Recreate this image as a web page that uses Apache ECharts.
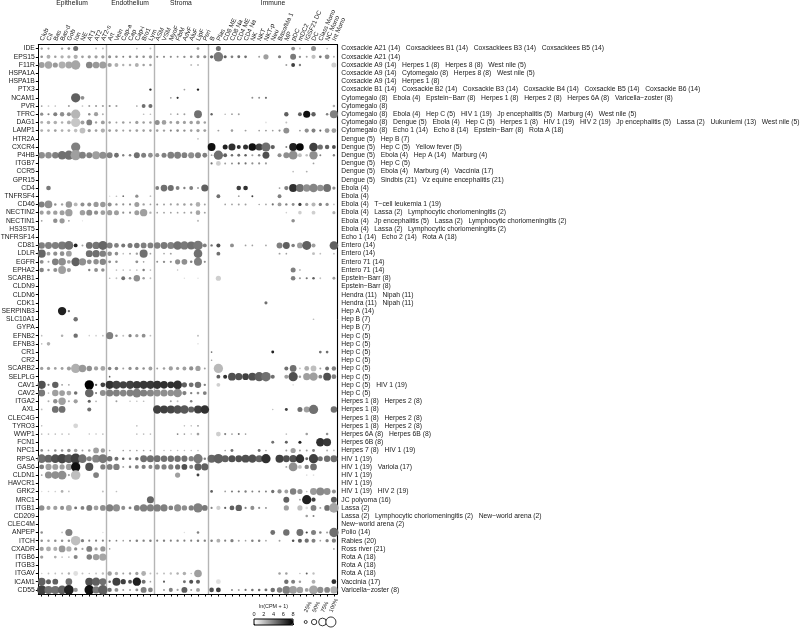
<!DOCTYPE html>
<html><head><meta charset="utf-8">
<script src="https://cdn.jsdelivr.net/npm/echarts@6/dist/echarts.min.js"></script>
<style>html,body{margin:0;padding:0;background:#fff}#c{width:800px;height:628px}</style></head>
<body><div id="c"></div>
<script>
const cellTypes=["Club","Cil","Bas","Bas-d","Gob","Ion","NE","AT1","AT2","AT2-s","Art","Vein","Cap-a","Cap","Cap-i","Bro1","Lym","ASM","VSM","MyoF","FibM","AdvF","AluF","LipF","Peri","B","Plas","CD8 ME","CD8 Na","CD4 ME","CD4 Na","NK","NKT","NKT-p","Neu","Baso/Ma 1","MP","pDC","mDC2","IGSF21 DC","DC","Class Mono","NC Mono","Int Mono"];
const groupNames=["Epithelium","Endothelium","Stroma","Immune"];
const genes=["IDE","EPS15","F11R","HSPA1A","HSPA1B","PTX3","NCAM1","PVR","TFRC","DAG1","LAMP1","HTR2A","CXCR4","P4HB","ITGB7","CCR5","GPR15","CD4","TNFRSF4","CD46","NECTIN2","NECTIN1","HS3ST5","TNFRSF14","CD81","LDLR","EGFR","EPHA2","SCARB1","CLDN9","CLDN6","CDK1","SERPINB3","SLC10A1","GYPA","EFNB2","EFNB3","CR1","CR2","SCARB2","SELPLG","CAV1","CAV2","ITGA2","AXL","CLEC4G","TYRO3","WWP1","FCN1","NPC1","RPSA","GAS6","CLDN1","HAVCR1","GRK2","MRC1","ITGB1","CD209","CLEC4M","ANPEP","ITCH","CXADR","ITGB6","ITGB3","ITGAV","ICAM1","CD55"];
const viruses=["Coxsackie A21 (14)|Coxsackiees B1 (14)|Coxsackiees B3 (14)|Coxsackiees B5 (14)","Coxsackie A21 (14)","Coxsackie A9 (14)|Herpes 1 (8)|Herpes 8 (8)|West nile (5)","Coxsackie A9 (14)|Cytomegalo (8)|Herpes 8 (8)|West nile (5)","Coxsackie A9 (14)|Herpes 1 (8)","Coxsackie B1 (14)|Coxsackie B2 (14)|Coxsackie B3 (14)|Coxsackie B4 (14)|Coxsackie B5 (14)|Coxsackie B6 (14)","Cytomegalo (8)|Ebola (4)|Epstein−Barr (8)|Herpes 1 (8)|Herpes 2 (8)|Herpes 6A (8)|Varicella−zoster (8)","Cytomegalo (8)","Cytomegalo (8)|Ebola (4)|Hep C (5)|HIV 1 (19)|Jp encephalitis (5)|Marburg (4)|West nile (5)","Cytomegalo (8)|Dengue (5)|Ebola (4)|Hep C (5)|Herpes 1 (8)|HIV 1 (19)|HIV 2 (19)|Jp encephalitis (5)|Lassa (2)|Uukuniemi (13)|West nile (5)","Cytomegalo (8)|Echo 1 (14)|Echo 8 (14)|Epstein−Barr (8)|Rota A (18)","Dengue (5)|Hep B (7)","Dengue (5)|Hep C (5)|Yellow fever (5)","Dengue (5)|Ebola (4)|Hep A (14)|Marburg (4)","Dengue (5)|Hep C (5)","Dengue (5)|Ebola (4)|Marburg (4)|Vaccinia (17)","Dengue (5)|Sindbis (21)|Vz equine encephalitis (21)","Ebola (4)","Ebola (4)","Ebola (4)|T−cell leukemia 1 (19)","Ebola (4)|Lassa (2)|Lymphocytic choriomeningitis (2)","Ebola (4)|Jp encephalitis (5)|Lassa (2)|Lymphocytic choriomeningitis (2)","Ebola (4)|Lassa (2)|Lymphocytic choriomeningitis (2)","Echo 1 (14)|Echo 2 (14)|Rota A (18)","Entero (14)","Entero (14)","Entero 71 (14)","Entero 71 (14)","Epstein−Barr (8)","Epstein−Barr (8)","Hendra (11)|Nipah (11)","Hendra (11)|Nipah (11)","Hep A (14)","Hep B (7)","Hep B (7)","Hep C (5)","Hep C (5)","Hep C (5)","Hep C (5)","Hep C (5)","Hep C (5)","Hep C (5)|HIV 1 (19)","Hep C (5)","Herpes 1 (8)|Herpes 2 (8)","Herpes 1 (8)","Herpes 1 (8)|Herpes 2 (8)","Herpes 1 (8)|Herpes 2 (8)","Herpes 6A (8)|Herpes 6B (8)","Herpes 6B (8)","Herpes 7 (8)|HIV 1 (19)","HIV 1 (19)","HIV 1 (19)|Variola (17)","HIV 1 (19)","HIV 1 (19)","HIV 1 (19)|HIV 2 (19)","JC polyoma (16)","Lassa (2)","Lassa (2)|Lymphocytic choriomeningitis (2)|New−world arena (2)","New−world arena (2)","Polio (14)","Rabies (20)","Ross river (21)","Rota A (18)","Rota A (18)","Rota A (18)","Vaccinia (17)","Varicella−zoster (8)"];
const sizeLevels=["25%","50%","75%","100%"];
const sizeLevelValues=[25,50,75,100];
// each gene: flat triples of column index, percent of cells, ln(CPM+1)
const IDE=[0,12,3,1,10,3,3,12,3,4,16,3.5,5,40,4.5,8,8,2,9,8,2,14,6,2,16,8,2,23,16,3,26,40,4.5,37,28,3.5,38,8,2,40,40,3.5,42,6,2];
const EPS15=[0,15,3.5,1,28,2.5,2,14,3,3,22,2.5,4,22,2.5,5,32,2.5,6,16,3,7,22,3,8,22,3,9,22,3,10,20,3.5,11,14,3.5,12,8,4,13,14,3.5,14,14,3.5,15,14,3.5,16,22,3,17,10,3.5,18,10,3.5,19,10,3.5,20,8,3.5,21,12,3.5,22,14,3.5,23,18,3.5,24,20,3.5,25,22,5,26,88,4.2,27,20,5,28,16,4,29,18,4.5,30,16,4.5,32,8,3,33,42,3,35,20,4,37,50,4.2,38,12,3.5,39,8,3,40,32,2,41,16,4.5,42,38,3.5,43,8,2.5];
const F11R=[0,50,3,1,65,2.8,2,42,3.2,3,60,2.5,4,60,2.8,5,85,2.8,7,58,3.8,8,58,3.2,9,62,3,10,32,3,11,28,2.5,12,12,2.5,13,14,2.5,14,28,2.5,15,14,3,16,14,3,22,8,2,23,10,2,36,8,3,37,28,6,38,12,4,43,40,1.5];
const HSPA1A=[];
const HSPA1B=[];
const PTX3=[16,12,6.5,21,6,3,23,12,7];
const NCAM1=[5,85,5,6,28,3.5,19,6,3,20,10,6.5,31,8,3.5,32,8,3.5,33,10,4.5];
const PVR=[0,6,3,1,5,2,2,5,2,4,8,3,6,5,2,7,8,3,8,10,3,9,10,3,10,10,3.5,11,10,3,14,5,3,15,28,4.5,16,30,4.5,43,14,2.5];
const TFRC=[0,22,3.5,1,10,4,2,30,4,3,34,3.5,4,30,3.5,5,85,2.3,7,14,3.5,8,32,3,9,8,2.5,15,5,2,16,5,2,19,6,2,20,6,3,21,8,3,23,70,4.5,25,12,5,27,5,2,28,6,3,29,8,3,36,34,5,38,28,5,39,62,7.5,40,34,5,42,14,4,43,72,4];
const DAG1=[0,18,2.5,1,25,2.5,2,25,2.5,3,14,2.5,4,28,2.5,5,85,1.8,6,30,3,7,48,4,8,12,3,9,28,3,10,14,3,11,8,3,12,14,3,13,8,3,14,22,3,15,14,3,16,14,3,17,40,3.5,18,36,3,19,16,3,20,24,3,21,20,3,22,24,3,23,28,3,24,14,3,33,5,1,36,8,2];
const LAMP1=[0,18,2.5,1,16,2.5,2,16,3,3,16,2.5,4,18,2.5,5,25,2,6,48,2,7,22,3,8,16,3,9,32,2.5,10,18,3,11,14,3,12,10,3,13,12,3,14,16,3,15,14,3,16,14,3,17,14,3,18,12,3,19,10,4,20,16,3.5,21,12,3.5,22,14,3,23,22,3,24,18,3,26,8,3,28,14,3,30,8,3,32,6,3,33,8,3,34,6,3,35,10,3.5,36,50,3.5,38,8,3,39,32,3.5,40,30,4,41,10,5,42,38,3.2,43,38,3];
const HTR2A=[23,6,2];
const CXCR4=[5,85,4,25,70,7.5,27,40,7,28,62,6.5,29,30,6.5,30,40,6.5,31,68,7.5,32,62,6,33,82,4.5,34,32,5,36,8,4,37,70,7,38,68,7.8,40,78,6,41,42,4.5,42,34,5,43,28,5.5];
const P4HB=[0,55,3.5,1,55,3.5,2,55,4,3,78,4.5,4,85,4.5,5,95,3,6,58,4,7,50,4,8,70,3,9,62,3.5,10,50,4,11,38,4.5,12,12,4,13,14,4,14,50,4.5,15,40,4,16,38,3.5,17,32,3.5,18,40,4,19,58,4,20,60,4,21,48,4,22,52,3.5,23,50,4,24,38,4,25,6,3,26,85,4.5,27,28,5,28,14,4.5,29,18,4.5,30,14,5,31,10,3,32,14,4,33,60,5.5,35,30,3.5,36,50,3.5,37,80,3.5,38,28,2,39,14,2,40,75,3.5,41,8,4,43,12,4];
const ITGB7=[25,10,4.5,26,38,1.5,27,8,3,28,8,3.5,29,10,4.5,30,10,4.5,31,10,3.5,32,10,3.5,33,10,3,40,6,3];
const CCR5=[37,6,2,39,7,2.5];
const GPR15=[];
const CD4=[1,36,4.2,17,28,4,18,58,4.5,19,50,4.5,20,28,4,21,12,4,22,28,4,23,8,3,24,62,5,29,36,6,30,36,6.5,35,6,3,36,32,4,37,72,6.5,38,70,4.5,39,65,3.5,40,78,3.8,41,55,3.5,42,70,4.5,43,22,3.5];
const TNFRSF4=[10,4,1,11,5,2,12,6,4.5,14,22,3.5,16,6,2,26,28,4.5,29,6,3,31,8,6,35,28,4];
const CD46=[0,50,4,1,68,3.5,2,14,3.5,3,12,3,4,55,3.2,5,28,2.3,6,30,3.5,7,30,3.5,8,42,3.2,9,45,3.2,10,30,3.5,11,12,3.5,12,10,3.5,13,10,3.5,14,40,3,15,12,3,16,6,3,17,8,3.5,18,8,3,19,10,3,20,12,3,21,14,3,22,14,3,23,36,2.5,24,8,3,27,5,3,28,6,3,29,8,3,30,8,3,32,4,3,33,5,3,34,10,4.5,35,28,3,36,12,4,37,18,3.5,38,22,6,39,22,3,40,30,2.3,41,22,4,42,22,3.5,43,6,2];
const NECTIN2=[0,30,3,1,32,3,2,34,3,3,40,3,4,65,3,6,45,3,7,50,3.5,8,32,3.5,9,38,3,10,42,3,11,40,3,12,10,3.5,13,10,3.5,14,40,3,15,65,3,16,12,2.5,17,5,3,18,6,3,19,6,3,20,6,3,21,8,3,22,10,3,23,36,2.8,24,8,3,36,4,1.5,38,25,1.5,40,28,1.5,43,20,2.5];
const NECTIN1=[0,6,3,2,34,3.5,3,42,3.2,4,6,3,6,2,1,23,10,2,37,25,3.5];
const HS3ST5=[];
const TNFRSF14=[];
const CD81=[0,55,4,1,60,4,2,60,4,3,72,4.2,4,80,4.5,5,28,7,6,8,3,7,58,4.5,8,65,4.3,9,82,4.8,10,50,4,11,38,4,12,30,4.3,13,40,4.2,14,46,4.2,15,48,4,16,48,4,17,55,4,18,60,4.2,19,62,4,20,78,4.5,21,75,4.2,22,72,4.5,23,88,4.2,24,28,4,25,12,4.5,26,30,5.5,28,28,3.5,30,6,3,31,5,3,33,5,3,35,50,4,36,60,5,37,25,4,38,48,3,39,82,5,40,30,3,43,78,5];
const LDLR=[0,72,4.8,1,28,3,2,32,3.5,3,36,3.5,4,48,3,7,60,4.5,8,65,4.5,9,55,4,10,35,3.5,11,25,3.5,12,5,2,13,8,3,14,12,3,15,72,4.5,16,6,3,18,4,3,19,8,3,23,78,4.5,26,28,4.5,35,8,3,36,5,3,40,18,2,41,6,2,43,8,2];
const EGFR=[0,28,3.5,1,8,3,2,58,4,3,68,3.5,4,28,3,5,78,5,6,65,3.5,7,38,3.5,8,45,3.5,9,55,3.8,10,18,3.5,11,14,3.5,14,18,3.5,15,5,3,17,8,3.5,18,12,3.5,19,10,3.5,20,42,3.5,21,48,3.5,22,14,4,23,72,4,24,10,3.5];
const EPHA2=[0,34,3.8,1,14,3.5,2,30,3.5,3,70,3,4,32,3,7,12,4,8,28,3.5,9,24,3.5,11,5,2,12,5,2,13,5,2,14,5,2,15,14,4,16,5,2,20,4,2,37,40,4,38,8,2];
const SCARB1=[10,5,2,11,6,2,12,28,4.5,13,14,3.5,14,55,3.5,15,14,3,16,6,2,21,3,1,23,3,1,26,42,1.5,37,36,4,38,10,3,39,10,4.5,40,14,5,41,6,2,43,18,3];
const CLDN9=[];
const CLDN6=[];
const CDK1=[33,20,4.5];
const SERPINB3=[3,75,7,4,12,4.5];
const SLC10A1=[5,34,4.5,40,5,2];
const GYPA=[];
const EFNB2=[0,5,2,3,14,2.5,5,34,4.5,7,4,1.5,8,5,1.5,9,6,2,10,62,4,11,14,3.5,12,8,2,13,22,4,14,22,3,15,28,3.5,16,6,2,23,8,2];
const EFNB3=[0,5,2,1,25,2.5,23,4,1];
const CR1=[25,5,4.5,34,18,7,41,16,4.5,42,16,4.5];
const CR2=[25,4,3];
const SCARB2=[0,22,3,1,22,3,2,16,3,3,18,3,4,30,3,5,85,2.5,6,65,3.2,7,45,3.5,8,32,3,9,38,2.8,10,25,4,11,25,3.8,12,8,3,13,22,3.5,14,22,3.5,15,14,3.5,16,28,3,17,8,3,18,14,3,19,32,3,20,22,3,21,28,3,22,32,3.5,23,42,3,24,8,3,26,85,2.2,36,30,4.5,37,58,4.5,38,6,2,39,38,2.5,40,48,2,41,8,3,42,28,4.5,43,34,4];
const SELPLG=[10,5,5,26,28,5,27,30,6.5,28,70,5.5,29,62,5.5,30,58,6,31,70,5.5,32,85,5,33,88,4.5,34,30,4.5,36,30,3,37,85,5.5,38,14,3,39,62,3,40,75,3,41,28,4,42,70,5.5,43,38,4];
const CAV1=[0,72,5.5,1,10,4,2,55,5,3,8,3,4,5,3,7,85,8,8,12,5,9,38,6,10,72,6.5,11,72,6,12,65,6,13,72,6,14,70,6.2,15,72,6.3,16,72,6.3,17,72,6.5,18,68,6.5,19,60,6.5,20,80,6.5,21,42,5,22,38,4.5,23,55,4.5,24,12,4,26,28,1.5,37,5,1];
const CAV2=[0,60,4.2,1,5,2,2,55,3,3,48,3,4,38,2.8,5,25,4.5,7,78,4.8,8,10,4,9,50,3.5,10,62,4,11,60,4,12,58,3.8,13,60,4,14,80,4,15,62,4,16,62,3.8,17,60,3.5,18,62,3.5,19,55,3.5,20,78,3.5,21,32,4,22,12,4,23,16,3.5,24,28,4];
const ITGA2=[1,8,2.5,2,34,3.5,3,65,3,4,10,2.5,5,32,3,7,20,5,8,6,2.5,11,8,3,13,4,2,14,4,2,15,5,2,19,8,3,20,8,2,22,14,4];
const AXL=[0,6,2,2,58,4.5,3,58,4.5,7,30,4.5,17,75,6,18,70,6,19,72,5.8,20,75,5.5,21,78,5.2,22,52,5,23,72,6,24,78,6.5,34,3,2,36,18,6,38,40,4.5,39,50,3,40,85,4.5,43,55,4.5];
const CLEC4G=[];
const TYRO3=[0,4,2,5,38,1.3,14,5,2,21,4,2,22,4,2,23,8,3];
const WWP1=[0,5,2,1,5,2,2,5,2,3,5,2,4,5,2,7,4,2,8,4,2,9,5,2,14,5,2,15,5,2,16,5,2,20,6,4,21,5,3,22,4,2,23,16,3,26,38,1.5,27,10,4,28,6,3,29,8,4.5,30,5,3,36,5,2,39,14,3,42,14,3.5];
const FCN1=[34,18,4.5,36,18,5,38,20,7,41,75,6.5,42,70,6.2];
const NPC1=[0,16,3.5,1,6,3,2,14,3.5,3,14,3.5,4,25,3.5,5,25,2.8,6,8,3,7,14,3,8,48,3,9,34,3,10,5,3,12,5,3,13,5,3,14,5,3,15,5,3,16,5,3,18,4,2,19,4,2,20,4,2,21,4,2,22,4,2,23,5,2,27,5,3,28,18,4.5,32,18,4.5,33,5,3,36,8,3,37,42,3,38,8,3,39,8,3,40,18,4,42,8,2.5,43,6,2];
const RPSA=[0,78,4.5,1,70,4.8,2,78,5.5,3,88,5.8,4,80,5.2,5,95,6,6,78,4.5,7,40,4,8,70,3.8,9,82,4.2,10,45,4.5,11,30,4.5,12,14,5,13,14,4,14,25,4.5,15,60,4.5,16,62,4.5,17,58,4.5,18,55,4.5,19,55,4.5,20,55,4.5,21,52,4.5,22,42,4,23,85,4.2,24,14,4,25,72,4.8,26,88,5,27,62,5,28,62,5.5,29,60,5.5,30,70,5.5,31,75,5.5,32,62,5,33,85,6.5,35,72,6,36,60,5.5,37,65,5.5,38,78,6.5,39,18,5,40,85,6,41,40,4.5,42,55,4.5,43,60,4.5];
const GAS6=[0,38,4,1,52,3,2,50,3,3,42,3,4,52,3,5,85,7.5,7,72,5.5,9,42,4,10,48,4,11,55,4,12,8,3,13,14,4,14,28,4,15,32,4,16,30,3.8,17,42,4,18,42,4,19,42,4,20,42,4.5,21,48,5.5,22,30,4,23,62,5,24,62,5,36,8,3,37,80,3.5,38,28,2,39,34,4,40,58,4.5];
const CLDN1=[0,6,3,1,62,3.5,2,68,3.5,3,80,3.5,4,10,3,5,88,2,8,48,4,20,42,3,23,18,6,39,5,1,40,5,1];
const HAVCR1=[];
const GRK2=[0,4,1,1,4,1.5,2,5,1.5,3,16,2.5,4,6,2,9,8,2,11,5,2,25,16,5,27,6,3,28,10,4,29,10,4.5,30,12,4,31,8,4,32,8,4,33,8,4,34,22,4.5,35,32,3.5,36,28,3,37,55,4,38,42,3.5,39,5,2,40,60,3.2,41,70,3.7,42,60,3.5,43,30,3.5];
const MRC1=[16,62,4.8,36,50,5,38,6,3,39,85,7,40,32,6,43,50,5];
const ITGB1=[0,45,3.5,1,30,3,2,32,3,3,30,3.5,4,50,2.8,5,18,4.5,6,28,4,7,50,4,8,38,3,9,48,3.5,10,62,4,11,62,3.5,12,30,3.5,13,18,4,14,50,4,15,65,4,16,62,4,17,65,4,18,62,4,19,38,4,20,62,3.5,21,45,3.5,22,42,4,23,85,4,24,48,4.2,25,10,4,26,32,1.5,27,10,5,28,38,5,29,55,5,30,10,4,31,30,3.5,32,10,3.5,33,8,3.5,36,42,3,38,42,2,39,14,1,40,48,4,41,8,3,42,48,4.5,43,88,2.8];
const CD209=[39,14,3,40,8,4];
const CLEC4M=[];
const ANPEP=[0,14,3.5,3,6,2,4,62,4,9,3,1,21,3,1,23,14,4,34,38,4.5,36,55,4.5,38,60,4.5,39,10,6,40,40,4,41,14,4,42,10,3,43,85,4.5];
const ITCH=[0,14,3.5,1,14,3,2,14,3.5,3,14,3.5,4,14,3.5,5,88,2,6,22,4,7,10,4,8,10,4,9,10,4,10,8,4,11,6,4,12,5,3,13,8,4,14,14,4,15,12,4,16,14,4,17,10,4,18,12,4,19,10,4,20,12,4,21,10,4,22,10,4,23,14,4,24,12,4,25,14,4,26,28,2.5,27,10,4,28,22,4,29,8,3,30,5,3,31,14,4,32,14,4,33,5,3,35,8,3,37,14,5.5,38,30,5,39,32,4.5,40,30,4,41,6,3,42,22,4,43,32,4];
const CXADR=[0,32,3,1,38,2.5,2,30,2.5,3,58,3.2,4,42,2.5,5,22,3.5,6,10,3,7,50,4,8,22,3,9,42,3.2,10,4,3,43,5,3];
const ITGB6=[0,22,3,2,16,2.5,3,6,2,4,6,2,5,30,3.8,7,45,4,8,55,3,9,65,2.8];
const ITGB3=[];
const ITGAV=[0,4,1.5,1,6,2,2,6,2,3,8,2,4,12,2.5,5,38,1,6,8,2,7,4,2,8,6,2,9,12,2,10,34,3,11,22,2.5,12,8,3,13,12,3,14,22,3,15,38,2.5,16,8,2,17,8,2,18,8,2,19,12,2,20,14,2.5,21,24,2.5,22,4,2,23,68,3,35,14,3,36,14,3,38,4,2,39,8,5,40,12,2];
const ICAM1=[0,68,5,1,40,5,2,48,5,4,58,4.5,7,72,5.5,8,75,5,9,60,4.5,10,14,5,11,72,6,12,42,6,13,28,5.5,14,75,7,15,30,4.5,16,5,3,18,10,5,21,18,4.5,22,30,5.5,23,30,5,26,38,1,36,34,4.5,37,30,4,38,14,3,40,28,2.5,43,38,6.5];
const CD55=[0,85,6,1,72,4.5,2,72,4.5,3,78,5,4,90,7,5,32,3.2,7,88,7.5,8,62,4.2,9,88,5,10,32,4.5,11,28,3.5,12,8,3,13,8,3,14,18,3.5,15,50,4,16,38,3.8,18,8,3,19,30,4,20,10,3,21,50,5,22,8,3,23,28,3,25,36,5.5,26,38,6,28,8,4,29,8,3,30,10,4.5,31,14,4.5,32,14,4.5,33,18,4.5,34,35,4.5,35,45,4,36,70,4,37,68,3,38,55,3,39,28,3,40,82,2.8,41,52,3.5,42,48,3.8,43,62,2.5];
const geneRows=[IDE,EPS15,F11R,HSPA1A,HSPA1B,PTX3,NCAM1,PVR,TFRC,DAG1,LAMP1,HTR2A,CXCR4,P4HB,ITGB7,CCR5,GPR15,CD4,TNFRSF4,CD46,NECTIN2,NECTIN1,HS3ST5,TNFRSF14,CD81,LDLR,EGFR,EPHA2,SCARB1,CLDN9,CLDN6,CDK1,SERPINB3,SLC10A1,GYPA,EFNB2,EFNB3,CR1,CR2,SCARB2,SELPLG,CAV1,CAV2,ITGA2,AXL,CLEC4G,TYRO3,WWP1,FCN1,NPC1,RPSA,GAS6,CLDN1,HAVCR1,GRK2,MRC1,ITGB1,CD209,CLEC4M,ANPEP,ITCH,CXADR,ITGB6,ITGB3,ITGAV,ICAM1,CD55];

const FONT='"Liberation Sans",Arial,Helvetica,sans-serif', FS=6.75, INK='#1a1a1a';
const dots=[];
geneRows.forEach((a,r)=>{for(let i=0;i<a.length;i+=3)dots.push([a[i],r,a[i+1],a[i+2]]);});
const pctToSize=p=>1.2+p*0.095;
const separatorsAt=[10,17,25];
const groupX=[72,130,181,273];

const chart=echarts.init(document.getElementById('c'),null,{renderer:'canvas'});
const line={lineStyle:{color:'#000',width:1}};
chart.setOption({
  animation:false,backgroundColor:'#fff',
  textStyle:{fontFamily:FONT},
  grid:[
    {left:38.3,top:44.5,width:299,height:549.5,containLabel:false,outerBoundsMode:'none'},
    {left:301.5,top:616,width:33.6,height:12,outerBoundsMode:'none'},
    {left:254,top:619,width:39,height:6,show:true,borderColor:'#000',borderWidth:1,backgroundColor:'transparent',z:20,outerBoundsMode:'none'}
  ],
  xAxis:[
    {type:'category',data:cellTypes,position:'top',gridIndex:0,
      axisLine:{show:true,...line},axisTick:{show:false},
      splitLine:{show:true,interval:(i)=>separatorsAt.includes(i),lineStyle:{color:'#b5b5b5',width:1.4}},
      axisLabel:{interval:0,rotate:-66,align:'left',verticalAlign:'middle',fontSize:6.3,color:INK,margin:4,fontFamily:FONT,hideOverlap:false}},
    {type:'category',data:cellTypes,position:'bottom',gridIndex:0,
      axisLine:{show:true,...line},axisTick:{show:true,alignWithLabel:true,length:2.5,interval:0,...line},axisLabel:{show:false}},
    {type:'category',data:sizeLevels,position:'top',gridIndex:1,
      axisLine:{show:false},axisTick:{show:false},
      axisLabel:{interval:0,rotate:66,align:'left',verticalAlign:'middle',fontSize:5.6,color:INK,margin:4,fontFamily:FONT,hideOverlap:false}},
    {type:'value',min:0,max:8,interval:2,position:'top',gridIndex:2,
      name:'ln(CPM + 1)',nameLocation:'middle',nameGap:10,nameTextStyle:{fontSize:5.4,color:INK,fontFamily:FONT},
      axisLine:{show:false},axisTick:{show:true,length:1.5,inside:false,...line},splitLine:{show:false},
      axisLabel:{fontSize:5.6,color:INK,margin:1.5,fontFamily:FONT}}
  ],
  yAxis:[
    {type:'category',data:genes,inverse:true,position:'left',gridIndex:0,
      axisLine:{show:true,...line},axisTick:{show:true,alignWithLabel:true,length:2.5,interval:0,...line},splitLine:{show:false},
      axisLabel:{interval:0,fontSize:FS,color:INK,margin:3.5,fontFamily:FONT,hideOverlap:false}},
    {type:'category',data:viruses.map(s=>s.split('|').join('   ')),inverse:true,position:'right',gridIndex:0,
      axisLine:{show:true,...line},axisTick:{show:false},splitLine:{show:false},
      axisLabel:{interval:0,fontSize:FS,color:INK,margin:4,align:'left',fontFamily:FONT,hideOverlap:false}},
    {type:'value',min:0,max:1,gridIndex:1,show:false},
    {type:'value',min:0,max:1,gridIndex:2,show:false}
  ],
  visualMap:[{type:'continuous',seriesIndex:0,dimension:3,min:0,max:8,orient:'horizontal',
    left:254,top:619,itemWidth:6,itemHeight:39,padding:0,text:null,showLabel:false,calculable:false,realtime:false,
    inRange:{color:['#ffffff','#000000']}}],
  series:[
    {type:'scatter',xAxisIndex:0,yAxisIndex:0,data:dots,symbol:'circle',silent:true,
      symbolSize:v=>pctToSize(v[2]),encode:{x:0,y:1},itemStyle:{opacity:1},z:5},
    {type:'scatter',xAxisIndex:2,yAxisIndex:2,symbol:'circle',silent:true,
      data:sizeLevelValues.map((p,i)=>[i,0.5,p]),symbolSize:v=>pctToSize(v[2])-0.6,
      itemStyle:{color:'#fff',borderColor:'#222',borderWidth:0.9,opacity:1}}
  ],
  graphic:groupNames.map((t,i)=>({type:'text',x:groupX[i],y:3,style:{text:t,fontSize:FS,fontFamily:FONT,fill:INK,align:'center',verticalAlign:'middle'}}))
});
</script></body></html>
